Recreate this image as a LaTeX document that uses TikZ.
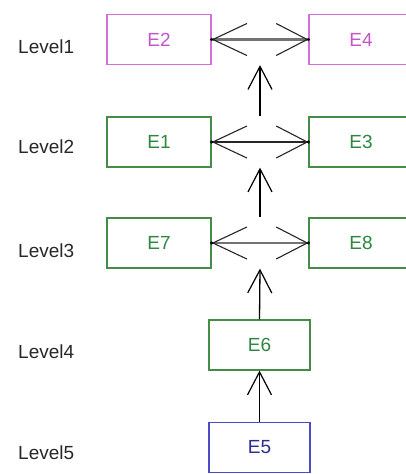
\documentclass[tikz,border=0pt]{standalone}
\usepackage{fontspec}
\setmainfont{Liberation Sans}
\usetikzlibrary{arrows.meta,calc}

\definecolor{pinkline}{RGB}{215,110,215}
\definecolor{pinktext}{RGB}{195,85,205}
\definecolor{greenline}{RGB}{70,140,70}
\definecolor{greentext}{RGB}{45,135,65}
\definecolor{blueline}{RGB}{75,75,200}
\definecolor{bluetext}{RGB}{45,45,150}
\definecolor{lvltext}{RGB}{40,40,40}

\tikzset{
  ent/.style={draw, line width=1.2pt, fill=white, minimum width=104pt,
    minimum height=50pt, inner sep=0pt, font=\fontsize{19}{19}\selectfont},
  pinkbox/.style={ent, draw=pinkline, text=pinktext},
  greenbox/.style={ent, draw=greenline, text=greentext},
  bluebox/.style={ent, draw=blueline, text=bluetext},
  lvl/.style={anchor=west, inner sep=0pt, text=lvltext, font=\fontsize{19}{19}\selectfont},
  link/.style={line width=1.1pt, draw=black!85,
    {Straight Barb[length=34pt,width=32pt,line width=1.1pt,color=black!85]}-{Straight Barb[length=31pt,width=32pt,line width=1.1pt,color=black!85]}},
  dlink/.style={link, draw=black!55, line width=2.2pt},
  up/.style={line width=1.3pt, draw=black,
    -{Straight Barb[length=23pt,width=24pt,line width=1.2pt]}},
  tipdot/.style={fill=black, inner sep=0pt, minimum size=3.4pt, circle}
}

\begin{document}
\begin{tikzpicture}[x=1pt,y=-1pt]
  \useasboundingbox (0,0) rectangle (406,474);
  \clip (0,0) rectangle (406,474);
  \fill[white] (0,0) rectangle (406,474);

  % entity boxes, one row per level
  \node[pinkbox]  (E2) at (159,39.5) {E2};
  \node[pinkbox]  (E4) at (361,39.5) {E4};
  \node[greenbox] (E1) at (159,142)  {E1};
  \node[greenbox] (E3) at (361,142)  {E3};
  \node[greenbox] (E7) at (159,243)  {E7};
  \node[greenbox] (E8) at (361,243)  {E8};
  \node[greenbox, minimum width=101pt] (E6) at (259.5,345) {E6};
  \node[bluebox,  minimum width=101pt] (E5) at (259.5,447.5) {E5};

  % level captions
  \node[lvl] (L1) at (18,47)  {Level1};
  \node[lvl] (L2) at (18,147) {Level2};
  \node[lvl] (L3) at (18,251) {Level3};
  \node[lvl] (L4) at (18,352) {Level4};
  \node[lvl] (L5) at (18,453) {Level5};

  % two-way links inside a level
  \draw[dlink] (E2.east) -- (E4.west);
  \draw[link]  (E1.east) -- (E3.west);
  \draw[dlink] (E7.east) -- (E8.west);
  \foreach \n in {E2,E1,E7}{\node[tipdot] at (\n.east) {};}
  \foreach \n in {E4,E3,E8}{\node[tipdot] at (\n.west) {};}

  % upward links between levels
  \coordinate (g1b) at ($(E2.south east)!0.5!(E4.south west)$);
  \coordinate (g2t) at ($(E1.north east)!0.5!(E3.north west)$);
  \coordinate (g2b) at ($(E1.south east)!0.5!(E3.south west)$);
  \coordinate (g3t) at ($(E7.north east)!0.5!(E8.north west)$);
  \coordinate (g3b) at ($(E7.south east)!0.5!(E8.south west)$);
  \draw[up] (g2t) -- (g1b);
  \draw[up] (g3t) -- (g2b);
  \draw[up] (E6.north) -- (g3b);
  \draw[up] (E5.north) -- (E6.south);
\end{tikzpicture}
\end{document}
